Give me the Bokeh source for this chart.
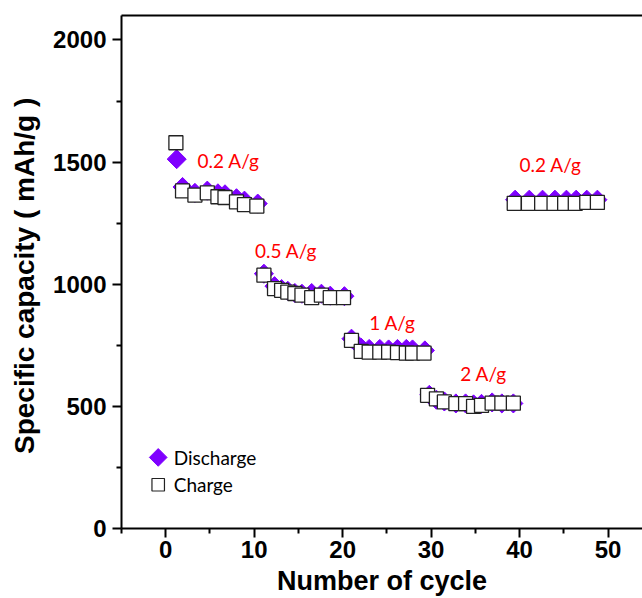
import numpy as np
from bokeh.plotting import figure
from bokeh.models import ColumnDataSource, Range1d, LinearAxis, FixedTicker
from bokeh.core.properties import value
from bokeh.embed import file_html
from bokeh.resources import INLINE

# ---- data ----
charge_cycle = [1.15,
                1.9, 3.3, 4.7, 5.9, 6.7, 8.0, 8.9, 10.3,
                11.1, 12.3, 13.1, 13.8, 14.6, 15.4, 16.5, 17.6, 18.6, 20.1,
                21.0, 22.1, 23.0, 24.2, 25.2, 26.2, 27.2, 27.9, 29.2,
                29.6, 30.6, 31.5, 32.8, 33.9, 34.8, 35.7, 36.9, 38.0, 39.3,
                39.4, 41.0, 42.5, 43.9, 45.1, 46.3, 47.6, 48.8]
charge_capacity = [1579,
                   1382, 1365, 1374, 1358, 1355, 1337, 1326, 1320,
                   1037, 982, 975, 968, 962, 955, 945, 955, 945, 945,
                   770, 725, 722, 722, 722, 720, 718, 718, 718,
                   545, 531, 518, 511, 511, 500, 504, 513, 513, 513,
                   1331, 1331, 1331, 1331, 1331, 1331, 1335, 1335]

discharge_cycle = [1.24,
                   1.9, 3.3, 4.7, 5.9, 6.7, 8.0, 8.9, 10.4,
                   11.1, 12.3, 13.1, 13.8, 14.6, 15.4, 16.5, 17.6, 18.6, 20.2,
                   21.0, 22.1, 23.0, 24.2, 25.2, 26.2, 27.2, 27.9, 29.3,
                   29.8, 30.6, 31.5, 32.8, 33.9, 34.8, 35.7, 36.9, 38.0, 39.3,
                   39.5, 41.1, 42.6, 44.0, 45.3, 46.4, 47.6, 48.8]
discharge_capacity = [1512,
                      1398, 1374, 1383, 1372, 1368, 1352, 1342, 1330,
                      1043, 992, 980, 973, 964, 961, 964, 961, 953, 951,
                      777, 740, 735, 735, 733, 735, 735, 733, 729,
                      547, 527, 520, 512, 512, 508, 510, 516, 512, 512,
                      1346, 1346, 1346, 1346, 1346, 1346, 1346, 1346]

x_ticks = [0, 10, 20, 30, 40, 50]
x_minor_ticks = [-5, 5, 15, 25, 35, 45]
y_ticks = [0, 500, 1000, 1500, 2000]
y_minor_ticks = [250, 750, 1250, 1750]

rate_labels = ["0.2 A/g", "0.5 A/g", "1 A/g", "2 A/g", "0.2 A/g"]
rate_label_x = [3.6, 10.1, 23.0, 33.3, 40.0]
rate_label_y = [1508, 1139, 844, 635, 1490]

legend_labels = ["Discharge", "Charge"]

PURPLE = "#7f00ff"

p = figure(width=642, height=598,
           x_range=Range1d(-5, 53.9), y_range=Range1d(0, 2100),
           output_backend="svg", toolbar_location=None,
           min_border_left=121, min_border_right=0,
           min_border_top=15, min_border_bottom=70)
p.outline_line_color = None
p.grid.visible = False
p.background_fill_color = "white"
p.border_fill_color = "white"

for ax in (p.xaxis[0], p.yaxis[0]):
    ax.axis_line_width = 2
    ax.axis_line_color = "black"
    ax.major_tick_line_width = 2
    ax.minor_tick_line_width = 2
    ax.major_tick_line_color = "black"
    ax.minor_tick_line_color = "black"
    ax.major_tick_in = 0
    ax.major_tick_out = 9
    ax.minor_tick_in = 0
    ax.minor_tick_out = 5
    ax.major_label_text_font = "Liberation Sans"
    ax.major_label_text_font_style = "bold"
    ax.major_label_text_font_size = "24px"
    ax.major_label_text_color = "black"
    ax.axis_label_text_font = "Liberation Sans"
    ax.axis_label_text_font_style = "bold"
    ax.axis_label_text_color = "black"

p.xaxis.axis_label_text_font_size = "27px"
p.yaxis.axis_label_text_font_size = "28px"
p.xaxis.ticker = FixedTicker(ticks=x_ticks, minor_ticks=x_minor_ticks)
p.yaxis.ticker = FixedTicker(ticks=y_ticks, minor_ticks=y_minor_ticks)
p.xaxis.axis_label = "Number of cycle"
p.yaxis.axis_label = "Specific capacity ( mAh/g  )"
p.xaxis.major_label_standoff = 3
p.yaxis.major_label_standoff = 6
p.xaxis.axis_label_standoff = 5
p.yaxis.axis_label_standoff = 10

top = LinearAxis(ticker=FixedTicker(ticks=[]), major_label_text_font_size="0px",
                 axis_line_width=2, axis_line_color="black",
                 major_tick_line_color=None, minor_tick_line_color=None)
p.add_layout(top, "above")

dsrc = ColumnDataSource(dict(x=discharge_cycle, y=discharge_capacity))
csrc = ColumnDataSource(dict(x=charge_cycle, y=charge_capacity))
p.scatter("x", "y", source=dsrc, marker="square", angle=np.pi / 4, size=13.5,
          fill_color=PURPLE, line_color=PURPLE, line_width=1)
p.scatter("x", "y", source=csrc, marker="square", size=14,
          fill_color="white", line_color="#222222", line_width=1.3)

p.text(x=rate_label_x, y=rate_label_y, text=rate_labels,
       text_font=value("Lato"), text_font_size="19px", text_color="#ff0000",
       text_baseline="middle", text_align="left")

leg_x = -0.85
leg_y = [291, 179]
p.scatter([leg_x], [leg_y[0]], marker="square", angle=np.pi / 4, size=12.5,
          fill_color=PURPLE, line_color=PURPLE)
p.scatter([leg_x], [leg_y[1]], marker="square", size=12.5,
          fill_color="white", line_color="#222222", line_width=1.2)
p.text(x=[0.9, 0.9], y=leg_y, text=legend_labels,
       text_font=value("Lato"), text_font_size="19px", text_color="black",
       text_baseline="middle", text_align="left")

open("out.html", "w").write(file_html(p, INLINE))
